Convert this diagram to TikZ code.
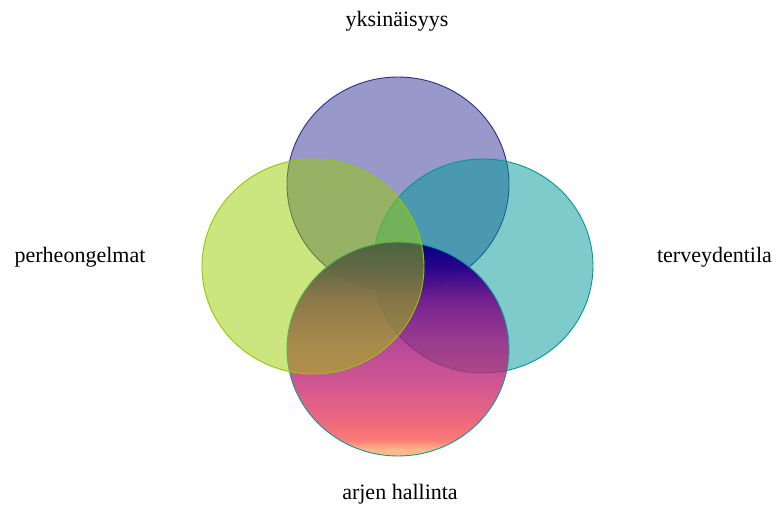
\documentclass[tikz,border=0pt]{standalone}
\usepackage{fontspec}
\setmainfont{Liberation Serif}
\usetikzlibrary{fadings}
\definecolor{topfill}{RGB}{51,51,153}
\definecolor{topline}{RGB}{45,45,140}
\definecolor{leftfill}{RGB}{153,204,0}
\definecolor{leftline}{RGB}{150,200,0}
\definecolor{rightfill}{RGB}{0,153,153}
\definecolor{rightline}{RGB}{0,150,150}
\definecolor{botline}{RGB}{20,150,160}
\definecolor{ga}{RGB}{255,165,105}
\definecolor{gb}{RGB}{249,88,82}
\definecolor{gc}{RGB}{232,62,88}
\definecolor{gd}{RGB}{194,38,118}
\definecolor{ge}{RGB}{160,20,126}
\definecolor{gf}{RGB}{115,16,138}
\definecolor{gg}{RGB}{45,5,140}
\definecolor{gh}{RGB}{0,0,128}
\pgfdeclareverticalshading{venngrad}{100bp}{color(0bp)=(ga); color(25bp)=(ga); color(26.5bp)=(ga); color(28.7bp)=(gb); color(33.4bp)=(gc); color(42.8bp)=(gd); color(52.1bp)=(ge); color(61.4bp)=(gf); color(68.5bp)=(gg); color(75bp)=(gh); color(100bp)=(gh)}
\pgfdeclareverticalshading{vennfadeshade}{100bp}{color(0bp)=(black!22); color(25bp)=(black!22); color(52bp)=(black!22); color(61bp)=(black!10); color(70bp)=(black!0); color(75bp)=(black!0); color(100bp)=(black!0)}
\pgfdeclarefading{vennfade}{\pgfuseshading{vennfadeshade}}
\tikzset{
  lbl/.style={inner sep=0pt, anchor=base, font=\fontsize{22}{26}\selectfont},
  vennshape/.style={line width=0.9pt},
}
\begin{document}
\begin{tikzpicture}[x=1pt,y=1pt]
\useasboundingbox (0,0) rectangle (776,504);
\fill[white] (0,0) rectangle (776,504);
% top circle
\fill[topfill, fill opacity=0.5] (398,319.5) ellipse [x radius=111, y radius=107.5];
\draw[topline, vennshape] (398,319.5) ellipse [x radius=111, y radius=107.5];
% right circle
\fill[rightfill, fill opacity=0.5] (483,238) ellipse [x radius=110, y radius=107];
\draw[rightline, vennshape] (483,238) ellipse [x radius=110, y radius=107];
% bottom circle
\path[shading=venngrad, path fading=vennfade, fit fading=true] (398,155) ellipse [x radius=111, y radius=107];
\draw[botline, vennshape] (398,155) ellipse [x radius=111, y radius=107];
% left circle
\fill[leftfill, fill opacity=0.5] (313,237.5) ellipse [x radius=111, y radius=107.5];
\draw[leftline, vennshape] (313,237.5) ellipse [x radius=111, y radius=107.5];
% labels
\node[lbl] (ltop) at (397,477.3) {yksinäisyys};
\node[lbl] (lleft) at (80,241.3) {perheongelmat};
\node[lbl] (lright) at (714.5,241.3) {terveydentila};
\node[lbl] (lbot) at (400,5) {arjen hallinta};
\end{tikzpicture}
\end{document}
